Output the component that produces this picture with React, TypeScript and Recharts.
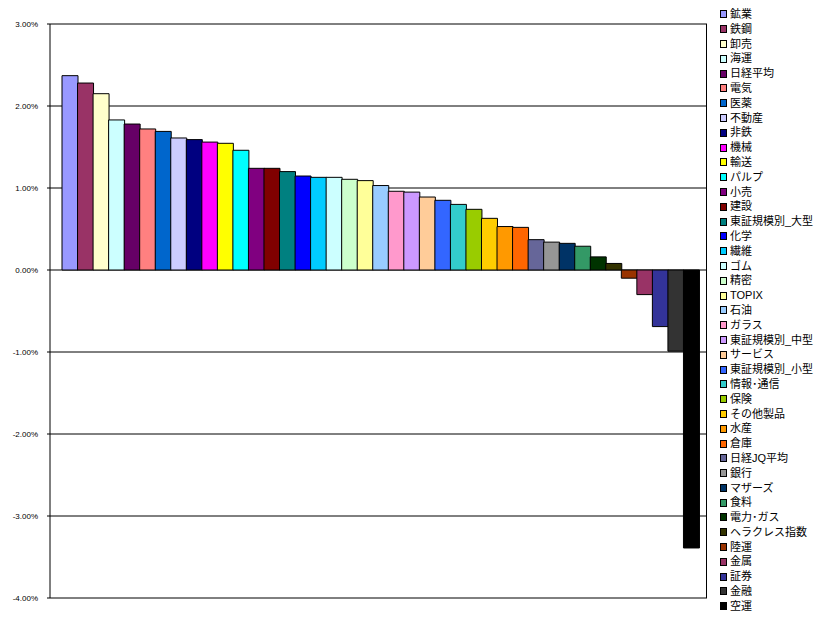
import React from "react";
import {
  BarChart,
  Bar,
  Cell,
  XAxis,
  YAxis,
  CartesianGrid,
} from "recharts";

const sectors = [
  "鉱業", "鉄鋼", "卸売", "海運", "日経平均", "電気", "医薬", "不動産", "非鉄", "機械",
  "輸送", "パルプ", "小売", "建設", "東証規模別_大型", "化学", "繊維", "ゴム", "精密", "TOPIX",
  "石油", "ガラス", "東証規模別_中型", "サービス", "東証規模別_小型", "情報･通信", "保険", "その他製品", "水産", "倉庫",
  "日経JQ平均", "銀行", "マザーズ", "食料", "電力･ガス", "ヘラクレス指数", "陸運", "金属", "証券", "金融",
  "空運",
];

const changes = [
  2.37, 2.28, 2.15, 1.83, 1.78, 1.72, 1.69, 1.61, 1.59, 1.56,
  1.545, 1.46, 1.24, 1.24, 1.2, 1.146, 1.13, 1.13, 1.106, 1.09,
  1.03, 0.96, 0.95, 0.89, 0.85, 0.8, 0.74, 0.63, 0.53, 0.52,
  0.37, 0.34, 0.325, 0.29, 0.16, 0.08, -0.1, -0.3, -0.69, -0.99,
  -3.39,
];

const colors = [
  "#9999FF", "#993366", "#FFFFCC", "#CCFFFF", "#660066", "#FF8080", "#0066CC", "#CCCCFF", "#000080", "#FF00FF",
  "#FFFF00", "#00FFFF", "#800080", "#800000", "#008080", "#0000FF", "#00CCFF", "#CCFFFF", "#CCFFCC", "#FFFF99",
  "#99CCFF", "#FF99CC", "#CC99FF", "#FFCC99", "#3366FF", "#33CCCC", "#99CC00", "#FFCC00", "#FF9900", "#FF6600",
  "#666699", "#969696", "#003366", "#339966", "#003300", "#333300", "#993300", "#993366", "#333399", "#333333",
  "#000000",
];

const yTicks = [-4, -3, -2, -1, 0, 1, 2, 3];

const data = sectors.map((name, i) => ({ name, value: changes[i] }));

const CHART_W = 710;
const CHART_H = 621;
const MARGIN = { top: 24, right: 3, bottom: 23, left: 0 };

// legend drawn as html, excel style list on the right
const Legend = () => (
  <div
    style={{
      position: "absolute",
      left: 720,
      top: 7,
      fontFamily: "'Liberation Sans', 'Noto Sans CJK JP', sans-serif",
      fontSize: 11,
      lineHeight: "14.8px",
      color: "#000",
      whiteSpace: "nowrap",
    }}
  >
    {sectors.map((s, i) => (
      <div key={s} style={{ display: "flex", alignItems: "center", height: 14.8 }}>
        <span
          style={{
            display: "inline-block",
            width: 5,
            height: 6,
            border: "1px solid #000",
            background: colors[i],
            marginRight: 3,
          }}
        />
        <span>{s}</span>
      </div>
    ))}
  </div>
);

const App = () => {
  return (
    <div
      style={{
        position: "absolute",
        left: 0,
        top: 0,
        width: 834,
        height: 621,
        background: "#fff",
      }}
    >
      <BarChart
        width={CHART_W}
        height={CHART_H}
        data={data}
        margin={MARGIN}
        barCategoryGap={0}
      >
        <CartesianGrid vertical={false} stroke="#000" strokeOpacity={1} />
        <XAxis dataKey="name" hide padding={{ left: 12, right: 8 }} />
        <YAxis
          domain={[-4, 3]}
          ticks={yTicks}
          width={50}
          tickSize={3}
          tickMargin={9}
          interval={0}
          axisLine={{ stroke: "#000" }}
          tickLine={{ stroke: "#000" }}
          tick={{ fontSize: 8, fill: "#000", fontFamily: "'Liberation Sans', Arial, sans-serif" }}
          tickFormatter={(v: number) => `${v.toFixed(2)}%`}
        />
        <Bar dataKey="value" stroke="#000" strokeWidth={1} isAnimationActive={false}>
          {data.map((d, i) => (
            <Cell key={d.name} fill={colors[i]} />
          ))}
        </Bar>
      </BarChart>
      {/* right edge of the plot frame */}
      <div
        style={{
          position: "absolute",
          left: CHART_W - MARGIN.right - 1,
          top: MARGIN.top,
          width: 1,
          height: CHART_H - MARGIN.top - MARGIN.bottom,
          background: "#000",
        }}
      />
      <Legend />
    </div>
  );
};

export default App;
